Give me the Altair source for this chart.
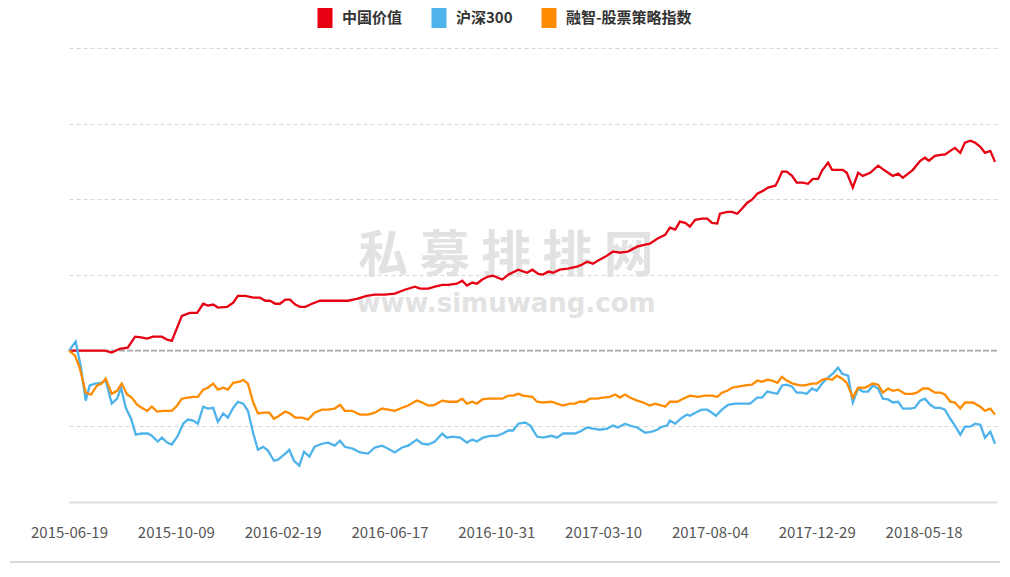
import altair as alt
import pandas as pd

# ---- data ----
series_names = ["中国价值", "沪深300", "融智-股票策略指数"]
series_colors = ["#e60012", "#4db3ea", "#ff8c00"]
tick_labels = ["2015-06-19", "2015-10-09", "2016-02-19", "2016-06-17", "2016-10-31",
               "2017-03-10", "2017-08-04", "2017-12-29", "2018-05-18"]
tick_step = 16

red_t = [0, 5.4, 6.4, 7.6, 8.8, 9.9, 10.8, 11.7, 12.6, 13.9, 14.7, 15.4, 16.9, 18.1, 19.2, 20.1, 20.8, 21.6, 22.3,
         23.7, 24.6, 25.3, 26.4, 27.6, 28.6, 29.4, 30.1, 30.9, 31.6, 32.4, 33.1, 33.9, 34.6, 35.4, 36.4, 37.6, 38.6,
         40.1, 41.8, 43.1, 44.6, 45.8, 47.3, 48.8, 50.3, 51.8, 52.6, 53.8, 54.8, 55.9, 56.8, 58.1, 58.9, 59.6, 60.4,
         61.1, 61.9, 62.8, 63.5, 64.9, 65.8, 67.3, 68.6, 69.4, 70.3, 71.0, 71.8, 72.5, 73.5, 74.7, 76.1, 76.8, 77.6,
         78.5, 79.2, 80.3, 81.5, 82.5, 83.7, 85.1, 86.3, 87.0, 88.1, 89.3, 90.0, 90.8, 91.5, 92.3, 93.0, 93.8, 94.8,
         95.6, 96.3, 97.1, 97.5, 98.6, 99.3, 100.1, 100.8, 101.6, 102.3, 103.1, 104.0, 104.7, 105.8, 106.2, 106.8,
         107.5, 108.3, 109.0, 109.9, 110.7, 111.4, 112.2, 112.8, 113.7, 114.3, 115.2, 115.9, 116.5, 117.4, 118.2,
         118.9, 120.0, 121.2, 122.2, 123.4, 124.2, 124.9, 125.7, 126.4, 127.5, 128.2, 128.8, 129.7, 130.8, 131.2,
         132.0, 132.7, 133.5, 134.2, 135.0, 135.7, 136.5, 137.2, 138.0, 138.7]
red_v = [0, 0, -0.5, 0.5, 0.8, 3.7, 3.5, 3.2, 3.7, 3.7, 2.9, 2.6, 9.2, 10.0, 10.0, 12.4, 11.9, 12.2, 11.4,
         11.6, 12.7, 14.5, 14.5, 14.0, 14.0, 13.2, 13.2, 12.4, 12.4, 13.5, 13.5, 12.2, 11.6, 11.6, 12.4, 13.2, 13.2,
         13.2, 13.2, 13.7, 14.5, 14.8, 14.8, 15.1, 16.1, 16.9, 16.4, 16.4, 16.9, 17.4, 17.4, 17.7, 18.5, 17.2, 18.0,
         17.7, 18.8, 19.6, 19.8, 18.8, 20.1, 21.4, 20.6, 21.4, 20.3, 20.1, 20.9, 20.6, 21.4, 21.7, 22.2, 22.7, 23.5,
         23.0, 23.8, 24.8, 26.2, 25.9, 26.2, 27.5, 28.0, 28.3, 29.6, 30.6, 32.5, 32.0, 34.1, 33.8, 32.8, 34.6, 34.9,
         34.9, 33.8, 33.6, 36.2, 36.7, 36.7, 36.2, 37.5, 39.1, 39.9, 41.5, 42.3, 43.1, 43.6, 44.9, 47.3,
         47.3, 46.2, 44.4, 44.4, 44.1, 45.4, 45.4, 47.6, 49.7, 47.8, 47.8, 47.8, 47.0, 43.1, 47.0,
         46.2, 47.0, 48.9, 47.6, 46.2, 46.8, 45.7, 46.8, 47.8, 50.2, 51.0, 50.2, 51.5, 51.8, 51.8,
         52.8, 53.6, 52.3, 55.0, 55.5, 55.0, 53.9, 52.3, 52.8, 49.9]

blue_t = [0, 1.0, 1.8, 2.5, 3.1, 3.9, 4.8, 5.5, 6.4, 7.2, 7.8, 8.5, 9.3, 10.0, 10.9, 11.8, 12.4, 13.3, 13.9, 14.7,
          15.4, 16.3, 17.1, 17.8, 18.6, 19.3, 20.1, 20.8, 21.6, 22.3, 23.1, 23.8, 24.6, 25.3, 26.1, 26.8, 27.6, 28.3,
          29.1, 29.8, 30.7, 31.3, 32.4, 33.0, 33.7, 34.5, 35.2, 36.0, 36.8, 37.9, 38.8, 39.8, 40.6, 41.3, 42.5, 43.6,
          44.8, 45.8, 46.9, 47.8, 48.8, 49.9, 50.8, 52.1, 52.9, 53.8, 54.8, 55.9, 56.6, 57.5, 58.6, 59.6, 60.4, 61.1,
          62.0, 63.1, 64.1, 65.0, 65.8, 66.5, 67.3, 68.3, 69.1, 70.1, 71.0, 72.3, 73.1, 74.0, 75.0, 75.8, 76.5, 77.6,
          78.5, 79.5, 80.6, 81.5, 82.2, 83.3, 84.0, 85.1, 86.3, 87.3, 88.1, 88.8, 89.6, 90.0, 90.8, 91.8, 92.6, 93.0,
          93.8, 94.8, 95.6, 96.3, 96.9, 97.8, 98.7, 99.8, 100.8, 102.0, 103.1, 103.8, 104.6, 105.3, 106.1, 106.8,
          107.5, 108.3, 109.0, 109.8, 110.5, 111.3, 112.0, 112.8, 113.5, 114.4, 115.2, 115.8, 116.7, 117.4, 118.2,
          118.9, 119.7, 120.4, 121.2, 121.9, 122.7, 123.4, 124.2, 124.9, 126.0, 126.7, 127.5, 128.2, 129.0, 129.7,
          130.5, 131.2, 132.0, 132.7, 133.5, 134.2, 135.0, 135.7, 136.5, 137.2, 138.0, 138.7]
blue_v = [0, 2.4, -4.5, -13.2, -9.2, -8.7, -8.5, -7.9, -14.0, -12.7, -9.8, -15.1, -18.0, -22.2, -21.9, -21.9, -22.5,
          -24.0, -23.0, -24.3, -24.8, -22.5, -19.3, -18.2, -18.5, -19.3, -14.8, -15.3, -15.1, -18.8, -16.6, -17.7,
          -15.1, -13.5, -14.0, -15.9, -21.9, -26.2, -25.4, -26.4, -29.1, -28.8, -27.2, -26.2, -29.1, -30.4, -26.7,
          -28.0, -25.4, -24.6, -24.3, -25.1, -23.8, -25.4, -25.9, -26.9, -27.2, -25.6, -25.1, -25.9, -26.9, -25.6,
          -25.1, -23.5, -24.6, -24.8, -24.0, -21.9, -23.0, -22.7, -23.0, -24.3, -23.5, -24.0, -23.0, -22.5, -22.5,
          -21.9, -21.1, -21.1, -19.3, -19.0, -19.8, -22.7, -23.0, -22.5, -23.0, -21.9, -21.9, -21.9, -21.4, -20.3,
          -20.6, -20.9, -20.6, -19.8, -20.3, -19.3, -19.8, -20.3, -21.7, -21.4, -20.9, -20.1, -19.8, -18.5, -19.3,
          -17.7, -16.9, -17.2, -16.4, -15.6, -15.6, -16.4, -17.2, -15.6, -14.3, -14.0, -14.0, -14.0, -12.4, -12.4,
          -10.8, -11.1, -11.4, -9.2, -9.0, -9.5, -11.1, -11.1, -11.4, -10.0, -10.6, -8.7, -7.4, -6.1, -4.5, -6.1,
          -6.6, -13.7, -10.0, -10.8, -10.8, -9.2, -10.0, -12.7, -12.9, -13.7, -13.5, -15.3, -15.3, -15.1, -13.2,
          -12.7, -14.3, -15.1, -15.1, -15.6, -18.0, -19.8, -22.2, -20.1, -20.1, -19.3, -19.6, -23.0, -21.4, -24.6]

orange_t = [0, 0.9, 1.6, 2.5, 3.3, 4.2, 4.9, 5.5, 6.4, 7.2, 7.9, 8.7, 9.4, 10.2, 10.9, 11.7, 12.4, 13.2, 14.1, 15.4,
            16.2, 16.9, 17.8, 18.6, 19.3, 20.1, 20.8, 21.6, 22.3, 23.1, 23.8, 24.6, 25.6, 26.1, 26.8, 27.6, 28.3,
            29.1, 30.0, 30.7, 31.3, 32.4, 33.1, 33.9, 34.9, 35.8, 36.8, 37.9, 38.8, 39.8, 40.6, 41.3, 42.4, 43.6,
            44.8, 45.8, 46.9, 47.8, 48.8, 49.9, 50.8, 52.1, 52.9, 53.8, 54.8, 55.9, 56.8, 58.1, 58.9, 59.6, 60.4,
            61.1, 61.9, 62.8, 63.8, 64.9, 65.8, 66.5, 67.3, 68.0, 69.4, 70.1, 71.0, 72.3, 73.1, 74.0, 75.0, 75.8,
            76.5, 77.3, 78.0, 79.1, 80.0, 81.0, 81.8, 82.5, 83.3, 84.0, 85.1, 86.0, 87.0, 87.8, 88.8, 89.3, 90.0,
            91.1, 92.0, 93.0, 94.2, 95.3, 96.3, 97.1, 97.8, 98.6, 99.3, 100.2, 101.3, 102.3, 103.1, 103.8, 104.6,
            105.3, 106.1, 106.8, 107.5, 108.4, 109.5, 110.2, 111.3, 112.0, 112.8, 113.5, 114.3, 115.0, 115.8, 116.5,
            117.4, 118.2, 119.2, 120.4, 121.2, 121.9, 122.7, 123.4, 124.2, 125.2, 126.3, 127.0, 127.9, 128.7, 129.7,
            130.5, 131.2, 132.0, 132.7, 133.5, 134.2, 135.4, 136.5, 137.2, 138.0, 138.7]
orange_v = [0, -1.3, -4.5, -11.1, -11.6, -9.2, -8.7, -7.4, -11.4, -10.6, -8.7, -11.6, -12.4, -14.3, -15.1, -15.9,
            -14.8, -16.1, -15.9, -15.9, -14.5, -12.7, -12.4, -12.2, -12.2, -10.3, -9.8, -8.7, -10.3, -9.8, -10.3,
            -8.5, -8.2, -7.7, -8.7, -13.7, -16.6, -16.4, -16.4, -18.0, -17.4, -16.1, -16.6, -17.7, -17.7, -18.2,
            -16.4, -15.6, -15.6, -15.3, -14.3, -15.9, -15.9, -16.9, -16.9, -16.4, -15.3, -15.6, -15.9, -15.1, -14.5,
            -13.2, -13.7, -14.5, -14.3, -13.2, -13.5, -13.5, -12.7, -14.0, -13.5, -14.0, -12.9, -12.7, -12.7, -12.7,
            -11.9, -11.9, -11.4, -11.9, -12.2, -13.5, -13.7, -13.5, -14.0, -14.5, -14.0, -14.0, -13.5, -13.5, -12.7,
            -12.7, -12.4, -12.2, -11.6, -12.4, -11.6, -12.4, -13.2, -13.7, -14.5, -14.0, -14.5, -14.8, -13.5, -13.5,
            -12.7, -11.9, -12.2, -11.9, -11.9, -12.2, -11.1, -10.6, -9.8, -9.5, -9.2, -9.0, -7.9, -8.2, -7.7, -7.9,
            -8.5, -6.9, -7.9, -8.7, -9.2, -9.2, -8.7, -8.7, -7.7, -7.4, -7.7, -6.6, -7.4, -8.5, -12.4, -9.8, -9.8,
            -8.7, -9.0, -11.1, -10.0, -10.6, -10.3, -11.4, -11.4, -11.1, -10.0, -10.0, -11.1, -11.1, -11.6, -13.5,
            -13.7, -15.3, -13.7, -13.7, -14.8, -15.9, -15.3, -16.9]

watermark_cn = ["私 募 排 排 网"]
watermark_en = ["www.simuwang.com"]

# ---- build the table ----
rows = []
for name, ts, vs in [(series_names[0], red_t, red_v),
                     (series_names[1], blue_t, blue_v),
                     (series_names[2], orange_t, orange_v)]:
    for t, v in zip(ts, vs):
        rows.append({"series": name, "t": t, "v": v})
df = pd.DataFrame(rows)

label_array = "[" + ",".join("'%s'" % s for s in tick_labels) + "]"
tick_values = [i * tick_step for i in range(len(tick_labels))]

FONT = "Noto Sans CJK SC"

x_scale = alt.Scale(domain=[0, 139], nice=False, zero=False)
y_scale = alt.Scale(domain=[-40, 80], nice=False)
color_scale = alt.Scale(domain=series_names, range=series_colors)

base = alt.Chart(df)

wm1 = alt.Chart(pd.DataFrame({"txt": watermark_cn})).mark_text(
    font=FONT, fontSize=50, fontWeight="bold", color="#e2e2e2", align="center", baseline="middle"
).encode(x=alt.value(437), y=alt.value(209), text="txt:N")

wm2 = alt.Chart(pd.DataFrame({"txt": watermark_en})).mark_text(
    font="DejaVu Sans", fontSize=26, fontWeight="bold", color="#e2e2e2", align="center", baseline="middle"
).encode(x=alt.value(437), y=alt.value(256), text="txt:N")

legend_layer = base.transform_filter("datum.t < -1000").mark_point(filled=True, opacity=1).encode(
    x=alt.X("t:Q", scale=x_scale),
    y=alt.Y("v:Q", scale=y_scale),
    color=alt.Color("series:N", scale=color_scale,
                    legend=alt.Legend(title=None, orient="none", legendX=246, legendY=-40,
                                      direction="horizontal", symbolType="M-0.75,-1H0.75V1H-0.75Z",
                                      symbolSize=400, symbolStrokeWidth=0, symbolOpacity=1,
                                      labelFont=FONT, labelFontSize=15, labelFontWeight="bold",
                                      labelColor="#333333", labelOffset=7, columnPadding=26,
                                      padding=0, symbolOffset=0)),
)

lines = base.mark_line(strokeWidth=2.3, interpolate="linear").encode(
    x=alt.X("t:Q", scale=x_scale,
            axis=alt.Axis(values=tick_values, labelExpr=label_array + "[round(datum.value/%d)]" % tick_step,
                          title=None, grid=False, ticks=False, tickSize=0, labelPadding=23,
                          labelFont=FONT, labelFontSize=15, labelColor="#555555",
                          domainColor="#dddddd", domainWidth=2, labelFlush=False)),
    y=alt.Y("v:Q", scale=y_scale,
            axis=alt.Axis(values=[-40, -20, 20, 40, 60, 80], labels=False, ticks=False, domain=False,
                          title=None, grid=True, gridColor="#d6d6d6", gridDash=[4, 3], gridWidth=1)),
    color=alt.Color("series:N", scale=color_scale),
    detail="series:N",
    order="t:Q",
)

zero_rule = alt.Chart(pd.DataFrame({"v": [0]})).mark_rule(
    color="#a8a8a8", strokeWidth=1.6, strokeDash=[6, 2]
).encode(y=alt.Y("v:Q", scale=y_scale))

bottom_rule = alt.Chart(pd.DataFrame({"v": [0]})).mark_rule(
    color="#cccccc", strokeWidth=1.5
).encode(x=alt.value(-59), x2=alt.value(931), y=alt.value(514))

chart = alt.layer(wm1, wm2, zero_rule, legend_layer, lines, bottom_rule).properties(
    width=928, height=454,
    padding={"left": 69, "top": 48, "right": 13, "bottom": 75},
    autosize=alt.AutoSizeParams(type="none"),
    background="white",
).configure_view(stroke=None)

chart.save("out.html", embed_options={"renderer": "svg", "actions": False})
